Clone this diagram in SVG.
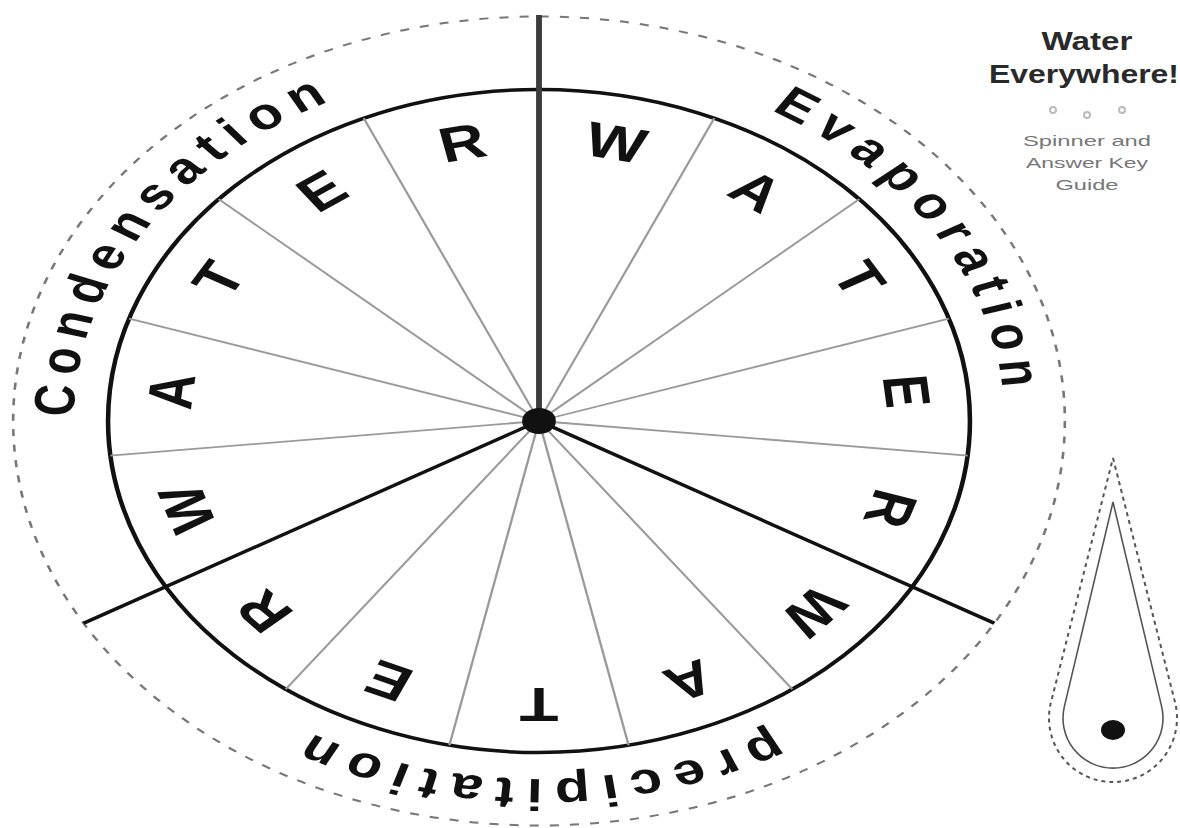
<svg xmlns="http://www.w3.org/2000/svg" xmlns:xlink="http://www.w3.org/1999/xlink" width="1180" height="828" viewBox="0 0 1180 828">
<style>
.thin{stroke:#9a9a9a;stroke-width:1.8;fill:none}
.thick{stroke:#111;stroke-width:3.2;fill:none}
.lbl{font-family:"Liberation Sans",Arial,sans-serif;font-weight:700;font-size:44px;letter-spacing:8.8px;fill:#111}
.ltr{font-family:"Liberation Sans",Arial,sans-serif;font-weight:700;font-size:49px;fill:#111;text-anchor:middle}
.ttl{font-family:"Liberation Sans",Arial,sans-serif;font-weight:700;font-size:25px;fill:#2a2a2a;text-anchor:middle}
.sub{font-family:"Liberation Sans",Arial,sans-serif;font-size:14.5px;fill:#777;text-anchor:middle}
</style>
<defs>
<path id="ring" d="M0,-358 A358,358 0 0 1 0,358 A358,358 0 0 1 0,-358"/>
</defs>
<rect width="1180" height="828" fill="#fff"/>
<g id="wheel" transform="translate(539,421) scale(1.3,1)">
  <circle r="404.5" fill="none" stroke="#777" stroke-width="2" stroke-dasharray="7 8.5"/>
  <circle r="331.5" fill="none" stroke="#111" stroke-width="3.5"/>
  <g id="spokes">
    <line class="thin" y2="-331.5" transform="rotate(24)"/>
    <line class="thin" y2="-331.5" transform="rotate(48)"/>
    <line class="thin" y2="-331.5" transform="rotate(72)"/>
    <line class="thin" y2="-331.5" transform="rotate(96)"/>
    <line class="thin" y2="-331.5" transform="rotate(144)"/>
    <line class="thin" y2="-331.5" transform="rotate(168)"/>
    <line class="thin" y2="-331.5" transform="rotate(192)"/>
    <line class="thin" y2="-331.5" transform="rotate(216)"/>
    <line class="thin" y2="-331.5" transform="rotate(264)"/>
    <line class="thin" y2="-331.5" transform="rotate(288)"/>
    <line class="thin" y2="-331.5" transform="rotate(312)"/>
    <line class="thin" y2="-331.5" transform="rotate(336)"/>
    <line y2="-406" stroke="#3c3c3c" stroke-width="4.5"/>
    <line class="thick" y2="-404.5" transform="rotate(120)"/>
    <line class="thick" y2="-404.5" transform="rotate(240)"/>
  </g>
  <ellipse id="hub" rx="13" ry="13" fill="#111"/>
  <g id="letters">
    <text class="ltr" y="17.5" transform="rotate(12) translate(0,-285)">W</text>
    <text class="ltr" y="17.5" transform="rotate(36) translate(0,-285)">A</text>
    <text class="ltr" y="17.5" transform="rotate(60) translate(0,-285)">T</text>
    <text class="ltr" y="17.5" transform="rotate(84) translate(0,-285)">E</text>
    <text class="ltr" y="17.5" transform="rotate(108) translate(0,-285)">R</text>
    <text class="ltr" y="17.5" transform="rotate(132) translate(0,-285)">W</text>
    <text class="ltr" y="17.5" transform="rotate(156) translate(0,-285)">A</text>
    <text class="ltr" y="17.5" transform="rotate(180) translate(0,-285)">T</text>
    <text class="ltr" y="17.5" transform="rotate(204) translate(0,-285)">E</text>
    <text class="ltr" y="17.5" transform="rotate(228) translate(0,-285)">R</text>
    <text class="ltr" y="17.5" transform="rotate(252) translate(0,-285)">W</text>
    <text class="ltr" y="17.5" transform="rotate(276) translate(0,-285)">A</text>
    <text class="ltr" y="17.5" transform="rotate(300) translate(0,-285)">T</text>
    <text class="ltr" y="17.5" transform="rotate(324) translate(0,-285)">E</text>
    <text class="ltr" y="17.5" transform="rotate(348) translate(0,-285)">R</text>
  </g>
  <g id="labels">
    <text class="lbl" text-anchor="middle"><textPath xlink:href="#ring" href="#ring" startOffset="1890">Condensation</textPath></text>
    <text class="lbl" text-anchor="middle"><textPath xlink:href="#ring" href="#ring" startOffset="362">Evaporation</textPath></text>
    <text class="lbl" text-anchor="middle"><textPath xlink:href="#ring" href="#ring" startOffset="1125.7">precipitation</textPath></text>
  </g>
</g>
<g id="title">
  <text class="ttl" x="1087" y="50" textLength="91" lengthAdjust="spacingAndGlyphs">Water</text>
  <text class="ttl" x="1084" y="83" textLength="190" lengthAdjust="spacingAndGlyphs">Everywhere!</text>
  <g fill="#fff" stroke="#bbb" stroke-width="2">
    <circle cx="1053" cy="110" r="3"/>
    <circle cx="1087" cy="115" r="3"/>
    <circle cx="1122" cy="110" r="3"/>
  </g>
  <text class="sub" x="1087" y="146" textLength="128" lengthAdjust="spacingAndGlyphs">Spinner and</text>
  <text class="sub" x="1087" y="168" textLength="122" lengthAdjust="spacingAndGlyphs">Answer Key</text>
  <text class="sub" x="1087" y="190" textLength="63" lengthAdjust="spacingAndGlyphs">Guide</text>
</g>
<g id="pointer">
  <path d="M1113,458 L1175,702.2 A64,64 0 1 1 1051,702.2 Z" fill="none" stroke="#555" stroke-width="2" stroke-dasharray="4 4"/>
  <path d="M1113,502 L1161.6,706.4 A50,50 0 1 1 1064.4,706.4 Z" fill="none" stroke="#555" stroke-width="1.6"/>
  <ellipse cx="1113" cy="730" rx="12" ry="10" fill="#111"/>
</g>
</svg>
